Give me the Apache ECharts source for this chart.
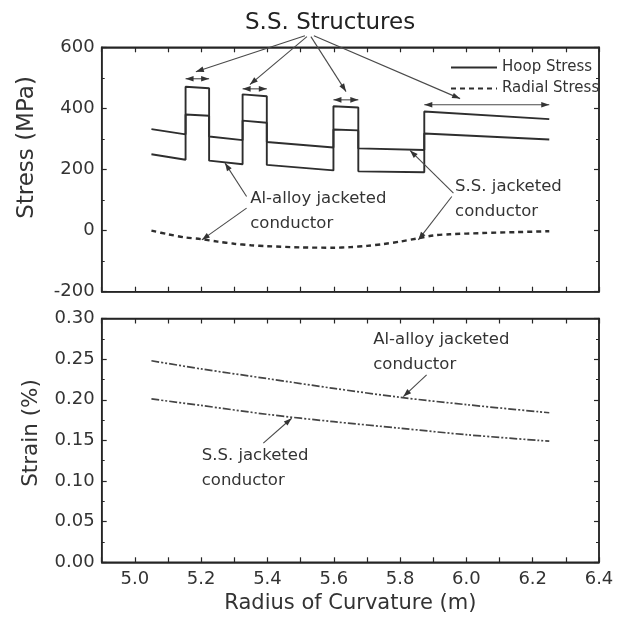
<!DOCTYPE html>
<html><head><meta charset="utf-8">
<script src="https://cdn.jsdelivr.net/npm/echarts@6/dist/echarts.min.js"></script>
<style>html,body{margin:0;padding:0;background:#fff}#c{width:625px;height:620px}</style>
</head><body><div id="c"></div>
<script>
// ---- data (radius m, value) ----
const hoopOuter = [[5.05,332],[5.153,315],[5.153,471],[5.224,466],[5.224,308],[5.325,296],[5.325,446],[5.398,440],[5.398,290],[5.599,272],[5.599,407],[5.674,403],[5.674,269],[5.873,264],[5.873,390],[6.25,365]];
const hoopInner = [[5.05,250],[5.153,232],[5.153,380],[5.224,376],[5.224,229],[5.325,217],[5.325,360],[5.398,353],[5.398,215],[5.599,197],[5.599,331],[5.674,328],[5.674,194],[5.873,191],[5.873,318],[6.25,298]];
const radialStress = [[5.05,0],[5.1,-12],[5.15,-22],[5.2,-28],[5.25,-36],[5.3,-43],[5.35,-48],[5.4,-51],[5.5,-55],[5.6,-56],[5.65,-54],[5.7,-50],[5.75,-44],[5.8,-36],[5.85,-26],[5.9,-16],[5.95,-12],[6.05,-8],[6.15,-5],[6.25,-2]];
const strainAl = [[5.05,0.248],[5.2,0.238],[5.4,0.226],[5.6,0.214],[5.8,0.203],[6.0,0.194],[6.25,0.184]];
const strainSS = [[5.05,0.201],[5.2,0.193],[5.4,0.182],[5.6,0.173],[5.8,0.165],[6.0,0.157],[6.25,0.149]];
const ssBlocks = [[5.153,5.224,497],[5.325,5.398,464],[5.599,5.674,428],[5.873,6.25,412]];
const legendNames = ['Hoop Stress','Radial Stress'];
const titleText = 'S.S. Structures';

const FONT = 'DejaVu Sans';
const INK = '#262626';
const TXT = '#333';

function xAx(grid, pos, labels) {
  return {
    gridIndex: grid, type: 'value', position: pos, min: 4.9, max: 6.4, interval: 0.1,
    axisLine: {show: true, onZero: false, lineStyle: {color: INK, width: 1.5}},
    axisTick: {show: true, inside: true, length: 5, lineStyle: {color: INK, width: 1.2}},
    axisLabel: labels ? {show: true, margin: 8, fontFamily: FONT, fontSize: 18, color: TXT,
      formatter: v => (Math.round(v * 10) % 2 === 0 ? v.toFixed(1) : '')} : {show: false},
    splitLine: {show: false}
  };
}
function yAx(grid, pos, min, max, interval, labels, dec) {
  return {
    gridIndex: grid, type: 'value', position: pos, min: min, max: max, interval: interval,
    axisLine: {show: true, onZero: false, lineStyle: {color: INK, width: 1.5}},
    axisTick: {show: true, inside: true, length: 5, lineStyle: {color: INK, width: 1.2}},
    minorTick: {show: true, splitNumber: 2, length: 3, lineStyle: {color: INK, width: 1}},
    axisLabel: labels ? {show: true, margin: 7, fontFamily: FONT, fontSize: 18, color: TXT,
      formatter: v => v.toFixed(dec)} : {show: false},
    splitLine: {show: false}, minorSplitLine: {show: false}
  };
}

const chart = echarts.init(document.getElementById('c'), null, {renderer: 'canvas'});
const option = {
  animation: false,
  backgroundColor: '#fff',
  title: {text: titleText, left: 240, top: 7,
    textStyle: {fontFamily: FONT, fontSize: 23, fontWeight: 'normal', color: '#222'}},
  legend: {
    data: legendNames, orient: 'vertical', left: 445, top: 55, itemWidth: 46, itemHeight: 14, itemGap: 6,
    textStyle: {fontFamily: FONT, fontSize: 15, color: TXT}, itemStyle: {opacity: 0}
  },
  grid: [
    {left: 101.7, top: 47.3, width: 497.3, height: 244.4, show: true, borderColor: INK, borderWidth: 1.5, outerBoundsMode: 'none'},
    {left: 101.7, top: 318.5, width: 497.3, height: 243.8, show: true, borderColor: INK, borderWidth: 1.5, outerBoundsMode: 'none'}
  ],
  xAxis: [
    xAx(0, 'bottom', false), xAx(0, 'top', false),
    Object.assign(xAx(1, 'bottom', true), {name: 'Radius of Curvature (m)', nameLocation: 'middle', nameGap: 31,
      nameTextStyle: {fontFamily: FONT, fontSize: 21, color: TXT}}),
    xAx(1, 'top', false)
  ],
  yAxis: [
    yAx(0, 'left', -200, 600, 200, true, 0), yAx(0, 'right', -200, 600, 200, false, 0),
    yAx(1, 'left', 0, 0.3, 0.05, true, 2), yAx(1, 'right', 0, 0.3, 0.05, false, 2)
  ],
  series: [
    {name: 'Hoop Stress', type: 'line', xAxisIndex: 0, yAxisIndex: 0, data: hoopOuter, symbol: 'none',
      lineStyle: {color: '#2e2e2e', width: 1.9}},
    {name: 'Hoop Stress', type: 'line', xAxisIndex: 0, yAxisIndex: 0, data: hoopInner, symbol: 'none',
      lineStyle: {color: '#2e2e2e', width: 1.9}},
    {name: 'Radial Stress', type: 'line', xAxisIndex: 0, yAxisIndex: 0, data: radialStress, symbol: 'none',
      smooth: 0.3, lineStyle: {color: '#2e2e2e', width: 2.4, type: [5, 4]}},
    {name: 'Strain Al', type: 'line', xAxisIndex: 2, yAxisIndex: 2, data: strainAl, symbol: 'none', smooth: 0.3,
      lineStyle: {color: '#444', width: 1.7, type: [8, 2, 2, 2, 2, 2]}},
    {name: 'Strain SS', type: 'line', xAxisIndex: 2, yAxisIndex: 2, data: strainSS, symbol: 'none', smooth: 0.3,
      lineStyle: {color: '#444', width: 1.7, type: [8, 2, 2, 2, 2, 2]}}
  ]
};
chart.setOption(option);

// ---- annotations (anchored in data units) ----
const P0 = pt => chart.convertToPixel({xAxisIndex: 0, yAxisIndex: 0}, pt);
const P1 = pt => chart.convertToPixel({xAxisIndex: 2, yAxisIndex: 2}, pt);
const G = [];
const AR = '#4a4a4a';
function head(a, b) {
  const dx = b[0] - a[0], dy = b[1] - a[1], L = Math.hypot(dx, dy) || 1;
  const ux = dx / L, uy = dy / L, len = 8, w = 2.8;
  const bx = b[0] - ux * len, by = b[1] - uy * len;
  G.push({type: 'polygon', silent: true, z: 10,
    shape: {points: [[b[0], b[1]], [bx - uy * w, by + ux * w], [bx + uy * w, by - ux * w]]},
    style: {fill: '#333'}});
}
function arrow(a, b, both) {
  G.push({type: 'line', silent: true, z: 10, shape: {x1: a[0], y1: a[1], x2: b[0], y2: b[1]},
    style: {stroke: AR, lineWidth: 1.1}});
  head(a, b);
  if (both) head(b, a);
}
function label(p, text) {
  G.push({type: 'text', silent: true, z: 10, x: p[0], y: p[1] - 12.5,
    style: {text: text, fontFamily: FONT, fontSize: 16.5, fill: TXT, align: 'left', verticalAlign: 'top', lineHeight: 25}});
}
// title arrows
const titleOrigins = [[5.513, 638], [5.519, 635], [5.531, 635], [5.540, 638]];
const titleTips = [[5.184, 520], [5.347, 478], [5.637, 455], [5.981, 432]];
titleOrigins.forEach((o, i) => arrow(P0(o), P0(titleTips[i]), false));
// double arrows above S.S. blocks
ssBlocks.forEach(b => arrow(P0([b[0], b[2]]), P0([b[1], b[2]]), true));
// stress-plot labels
label(P0([5.348, 104]), 'Al-alloy jacketed\nconductor');
arrow(P0([5.337, 111.5]), P0([5.272, 221]));
arrow(P0([5.337, 73.4]), P0([5.202, -30.5]));
label(P0([5.966, 144.3]), 'S.S. jacketed\nconductor');
arrow(P0([5.961, 122.6]), P0([5.830, 262.3]));
arrow(P0([5.956, 111.5]), P0([5.855, -30.5]));
// strain-plot labels
label(P1([5.719, 0.2738]), 'Al-alloy jacketed\nconductor');
arrow(P1([5.880, 0.2307]), P1([5.810, 0.2039]));
label(P1([5.2017, 0.1313]), 'S.S. jacketed\nconductor');
arrow(P1([5.3875, 0.1466]), P1([5.473, 0.1773]));
// y-axis titles
G.push({type: 'text', silent: true, x: 27, y: 147.5, rotation: Math.PI / 2,
  style: {text: 'Stress (MPa)', fontFamily: FONT, fontSize: 23, fill: TXT, align: 'center', verticalAlign: 'middle'}});
G.push({type: 'text', silent: true, x: 31, y: 433, rotation: Math.PI / 2,
  style: {text: 'Strain (%)', fontFamily: FONT, fontSize: 21.5, fill: TXT, align: 'center', verticalAlign: 'middle'}});
chart.setOption({graphic: G});
</script>
</body></html>
